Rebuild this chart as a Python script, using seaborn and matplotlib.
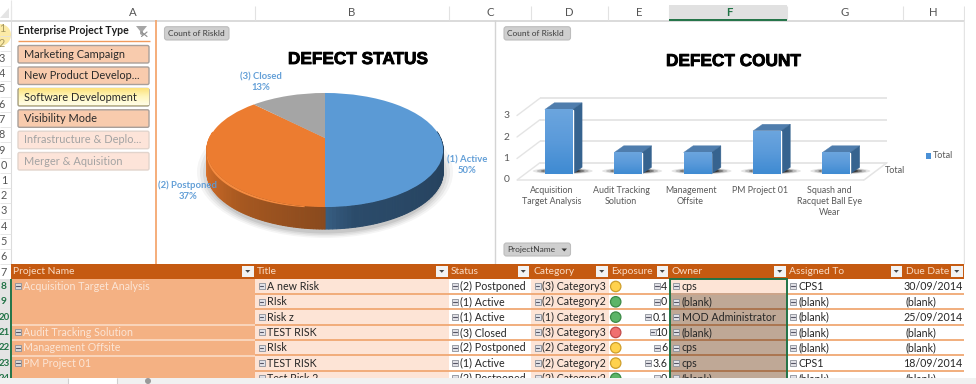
import numpy as np
import pandas as pd
import matplotlib
matplotlib.use("Agg")
import matplotlib.pyplot as plt
import seaborn as sns
import matplotlib.patheffects as pe
from matplotlib.patches import Rectangle, Polygon, Circle, Ellipse, FancyBboxPatch
from matplotlib.transforms import Transform, ScaledTranslation
from matplotlib.colors import LinearSegmentedColormap

# ---------------- data ----------------
status_labels = ["(1) Active\n50%", "(2) Postponed\n37%", "(3) Closed\n13%"]
status_counts = [4, 3, 1]
project_names = ["Acquisition\nTarget Analysis", "Audit Tracking\nSolution", "Management\nOffsite",
                 "PM Project 01", "Squash and\nRacquet Ball Eye\nWear"]
project_counts = [3, 1, 1, 2, 1]
slicer_items = ["Marketing Campaign", "New Product Develop...", "Software Development",
                "Visibility Mode", "Infrastructure & Deplo...", "Merger & Aquisition"]
slicer_states = ["on", "on", "hot", "on", "off", "off"]
headers = ["Project Name", "Title", "Status", "Category", "Exposure", "Owner", "Assigned To", "Due Date"]
col_letters = ["A", "B", "C", "D", "E", "F", "G", "H"]
row_digits = ["1", "2", "3", "4", "5", "6", "7", "8", "9", "0", "1", "2", "3", "4", "5", "6", "7"]
table_rows = ["8", "9", "20", "21", "22", "23", "24"]
merged_projects = [("Acquisition Target Analysis", 3), ("Audit Tracking Solution", 1),
                   ("Management Offsite", 1), ("PM Project 01", 2)]
titles = ["A new Risk", "RIsk", "Risk z", "TEST RISK", "RIsk", "TEST RISK", "Test Risk 2"]
statuses = ["(2) Postponed", "(1) Active", "(1) Active", "(3) Closed", "(2) Postponed", "(1) Active", "(2) Postponed"]
categories = ["(3) Category3", "(2) Category2", "(1) Category1", "(3) Category3", "(2) Category2", "(2) Category2", "(2) Category2"]
exposures = ["4", "0", "0.1", "10", "6", "3.6", "0"]
lights = ["y", "g", "g", "r", "y", "y", "g"]
owners = ["cps", "(blank)", "MOD Administrator", "(blank)", "cps", "cps", "(blank)"]
assigned = ["CPS1", "(blank)", "(blank)", "(blank)", "(blank)", "CPS1", "(blank)"]
due = ["30/09/2014", "(blank)", "25/09/2014", "(blank)", "(blank)", "18/09/2014", "(blank)"]

# ---------------- layout ----------------
sns.set_theme(style="white")
plt.rcParams["font.family"] = ["Lato", "DejaVu Sans"]
W, H = 976, 384
fig = plt.figure(figsize=(W / 100, H / 100), dpi=100, facecolor="white")

def full_axes(z):
    a = fig.add_axes([0, 0, 1, 1], zorder=z)
    a.set_xlim(0, W); a.set_ylim(H, 0); a.axis("off"); a.patch.set_alpha(0)
    return a

def px_axes(x0, y0, x1, y1, z):
    return fig.add_axes([x0 / W, 1 - y1 / H, (x1 - x0) / W, (y1 - y0) / H], zorder=z)

bg = full_axes(0)
fg = full_axes(5)

FS = 7.9
TS = 7.65
DARK = "#262626"
def T(x, y, s, size=TS, color=DARK, ha="left", va="center", ax=fg, **kw):
    return ax.text(x, y, s, fontsize=size, color=color, ha=ha, va=va, **kw)
def R(a, x0, y0, x1, y1, color, z=1, **kw):
    a.add_patch(Rectangle((x0, y0), x1 - x0, y1 - y0, facecolor=color, edgecolor="none", zorder=z, **kw))
def HL(a, x0, x1, y, color, lw=1.0, z=2):
    a.plot([x0, x1], [y, y], color=color, lw=lw, zorder=z, solid_capstyle="butt")
def VL(a, x, y0, y1, color, lw=1.0, z=2):
    a.plot([x, x], [y0, y1], color=color, lw=lw, zorder=z, solid_capstyle="butt")

# ---------------- sheet chrome ----------------
col_edges = [11, 255, 448.5, 530.6, 608, 669, 786.7, 903, 963.8]
letter_x = [133, 352, 490, 569.6, 639, 729, 845, 933]
R(bg, 669, 5, 786.7, 20, "#e1e1e1")
HL(bg, 669, 786.7, 19.8, "#217346", 1.4, z=3)
HL(bg, 0, W, 20.5, "#d4d4d4", 1.2)
for x in col_edges:
    VL(bg, x, 6, 20, "#e2e2e2", 0.8)
for x, c in zip(letter_x, col_letters):
    sel = c == "F"
    T(x, 12.5, c, size=8.2, color="#217346" if sel else "#555555", ha="center", fontweight="bold" if sel else "normal")
bg.add_patch(Polygon([[9, 8], [9, 18], [0, 18]], facecolor="#e4e4e4", edgecolor="none"))
VL(bg, 11, 0, 20, "#e6e6e6", 0.8)
VL(bg, 11, 20, 264, "#dcdcdc", 0.8)
R(bg, 0, 279, 10.5, 378, "#e4e4e4")
VL(bg, 10.6, 279, 378, "#217346", 1.4, z=3)
bg.add_patch(Circle((0, 35), 11, facecolor="#fbeaa6", edgecolor="none", zorder=1))
row_y0 = 28
for i, d in enumerate(row_digits):
    y = row_y0 + (i * 15.25)
    HL(bg, 0, 11, y + 7.6, "#e2e2e2", 0.6)
    T(2 if i < 9 else 4, y, d, size=7.8, color="#a89a60" if i < 2 else "#555555", ha="center")

# ---------------- slicer ----------------
VL(bg, 156.3, 20, 264, "#f4a76f", 1.3)
T(17.5, 30.5, "Enterprise Project Type", size=7.6, color="#1f1f1f", fontweight="bold")
HL(bg, 17.5, 150, 41.2, "#f09a5c", 1.0)
bg.add_patch(Polygon([[136, 26], [147, 26], [143, 31], [143, 36], [140, 34], [140, 31]],
                     facecolor="#a6a6a6", edgecolor="none", zorder=3))
bg.plot([141.5, 147], [32, 36.5], color="#8c8c8c", lw=0.8, zorder=4)
bg.plot([147, 141.5], [32, 36.5], color="#8c8c8c", lw=0.8, zorder=4)
slicer_top = [45, 66.5, 88, 109.3, 130.7, 152]
slicer_face = {"on": "#f8cbad", "hot": "#fdee9a", "off": "#fde4d9"}
slicer_edge = {"on": "#a99f99", "hot": "#a59f88", "off": "#e2d4cc"}
slicer_text = {"on": "#2a2a2a", "hot": "#2a2a2a", "off": "#a3a3a3"}
for name, st, y in zip(slicer_items, slicer_states, slicer_top):
    bg.add_patch(FancyBboxPatch((18, y + .5), 131, 17.5, boxstyle="round,pad=0,rounding_size=1.6",
                                facecolor=slicer_face[st], edgecolor=slicer_edge[st], lw=1.0, zorder=2))
    if st == "hot":
        grad = LinearSegmentedColormap.from_list("h", ["#fde27a", "#fff6bd", "#fffde6"])
        bg.imshow(np.linspace(0, 1, 32)[:, None], cmap=grad, extent=(19, 148.5, y + 17.4, y + 1.2),
                  aspect="auto", zorder=2.5)
        bg.set_xlim(0, W); bg.set_ylim(H, 0)
    T(24.5, y + 9.2, name, size=FS, color=slicer_text[st])

# ---------------- field buttons ----------------
def field_button(x0, y0, x1, y1, s, arrow=False):
    bg.add_patch(FancyBboxPatch((x0, y0), x1 - x0, y1 - y0, boxstyle="round,pad=0,rounding_size=2.5",
                                facecolor="#cfcfcf", edgecolor="#bdbdbd", lw=0.8, zorder=3))
    T(x0 + 3, (y0 + y1) / 2, s, size=6.0, color="#3c3c3c")
    if arrow:
        bg.add_patch(Polygon([[x1 - 9, y0 + 5.5], [x1 - 3.5, y0 + 5.5], [x1 - 6.2, y0 + 8.5]],
                             facecolor="#333333", edgecolor="none", zorder=4))
field_button(164.5, 26.7, 229, 40, "Count of RiskId")
field_button(504, 26.7, 570.5, 40, "Count of RiskId")
field_button(504, 243, 570.5, 256, "ProjectName", arrow=True)
VL(bg, 495.4, 20, 264, "#d4d4d4", 1.0)
VL(bg, 963.8, 20, 264, "#e4e4e4", 1.0)

heavy = [pe.withStroke(linewidth=0.6, foreground="black")]
T(358, 59.5, "DEFECT STATUS", size=12.4, color="black", ha="center", family="Liberation Sans",
  fontweight="bold", path_effects=heavy)
T(733.5, 61.5, "DEFECT COUNT", size=12.4, color="black", ha="center", family="Liberation Sans",
  fontweight="bold", path_effects=heavy)

# ---------------- pie ----------------
CX, CY, RX, AY, K, DEPTH = 325.0, 138.0, 115.5, 54.5, 0.2105, 22.0

def project(x, y):
    d = 1 + K * y
    return CX + RX * x / d, CY - AY * y / d

class DiscToSheet(Transform):
    input_dims = output_dims = 2
    def transform_non_affine(self, values):
        v = np.asarray(values, float)
        return np.column_stack(project(v[:, 0], v[:, 1]))

ax_pie = px_axes(200, 85, 450, 235, 1)
ax_pie.axis("off"); ax_pie.patch.set_alpha(0)
pie_colors = ["#5b9ad5", "#ec7c30", "#a5a5a5"]
wedges, _ = ax_pie.pie(status_counts, colors=pie_colors, startangle=90, counterclock=False, radius=1,
                       wedgeprops=dict(lw=0))
tr = DiscToSheet() + bg.transData
for w in wedges:
    w.set_transform(tr)
    w.set_clip_on(False)

# soft shadow below the disc
for i, (gw, gh, al) in enumerate([(256, 132, .04), (250, 128, .05), (244, 124, .06), (238, 120, .08)]):
    bg.add_patch(Ellipse((CX, 172 + i * .5), gw, gh, facecolor="black", edgecolor="none", alpha=al, zorder=.5))

side_ramps = {
    0: [(0, "#3d678e"), (.15, "#2b4b6a"), (.7, "#25415d"), (1, "#2e5272")],
    1: [(0, "#f08338"), (.25, "#d06c28"), (.6, "#a65820"), (1, "#8a4a1e")],
}
for idx, w in enumerate(wedges[:2]):
    a0, a1 = np.radians(w.theta1), np.radians(w.theta2)
    ths = np.linspace(a0, a1, 120)
    cmap = LinearSegmentedColormap.from_list("s", side_ramps[idx])
    for t0, t1 in zip(ths[:-1], ths[1:]):
        if idx == 0:
            f = abs(((t0 + t1) / 2) / (np.pi / 2))
            col = cmap(np.clip(1 - f, 0, 1) * .75 + .05)
        else:
            deg = np.degrees((t0 + t1) / 2) % 360
            f = np.clip((270 - deg) / 90, 0, 1)
            col = cmap(1 - f)
        if np.sin((t0 + t1) / 2) > 0.12:
            continue
        x0, y0 = project(np.cos(t0), np.sin(t0)); x1, y1 = project(np.cos(t1), np.sin(t1))
        bg.add_patch(Polygon([[x0, y0], [x1, y1], [x1, y1 + DEPTH], [x0, y0 + DEPTH]],
                             facecolor=col, edgecolor=col, lw=.8, zorder=1))
    if idx == 1:  # bright bevel under the orange rim, thinning toward the front
        rim = np.radians(np.linspace(186, 262, 80))
        xs, ys = project(np.cos(rim), np.sin(rim))
        thick = np.linspace(4.5, 1.0, len(rim))
        bg.add_patch(Polygon(np.r_[np.c_[xs, ys], np.c_[xs, ys + thick][::-1]], facecolor="#f58b40",
                             edgecolor="none", zorder=1.2))

PIE_TXT = "#5b9ad5"
label_xy = [(467.5, 165), (188, 191), (261, 82.5)]
for s, (x, y) in zip(status_labels, label_xy):
    T(x, y, s, size=6.8, color=PIE_TXT, ha="center", linespacing=1.25, fontweight="bold", alpha=.95)

# ---------------- bars ----------------
UNIT = 21.5
ax_bar = px_axes(524, 174 - 3.5 * UNIT, 871, 174, 2)
ax_bar.patch.set_alpha(0)
df = pd.DataFrame({"project": project_names, "count": project_counts})
sns.barplot(data=df, x="project", y="count", color="#4a90d6", saturation=1, width=0.4, ax=ax_bar, legend=False)
ax_bar.set_ylim(0, 3.5)
ax_bar.set_xlim(-0.5, 4.5)
ax_bar.set_xlabel(""); ax_bar.set_ylabel("")
ax_bar.set_yticks([0, 1, 2, 3])
ax_bar.tick_params(axis="both", length=0, labelcolor="#595959", labelsize=6.4)
ax_bar.tick_params(axis="y", labelsize=7.4, pad=10.5)
ax_bar.tick_params(axis="x", pad=8.5)
sns.despine(ax=ax_bar, left=True, bottom=True)
for lab in ax_bar.get_xticklabels():
    lab.set_transform(lab.get_transform() + ScaledTranslation(-7 / 100, 0, fig.dpi_scale_trans))
    lab.set_linespacing(1.3)
for lab in ax_bar.get_yticklabels():
    lab.set_transform(lab.get_transform() + ScaledTranslation(0, -5 / 100, fig.dpi_scale_trans))
ax_bar.xaxis.grid(False); ax_bar.yaxis.grid(False)

def sheet_y(v):
    return 174 - v * UNIT

FX0, FX1, BX0, BX1, DY = 517, 864, 540, 887, 17.3
GRID = "#e4e4e4"
for v in [0, 1, 2, 3]:
    front = sheet_y(v) + 6
    HL(bg, BX0, BX1, front - DY, GRID, 1.3)
    bg.plot([FX0, BX0], [front, front - DY], color=GRID, lw=1.0, zorder=2)
HL(bg, FX0, FX1, sheet_y(0) + 6, GRID, 1.1)
bg.plot([FX1, BX1], [sheet_y(0) + 6, sheet_y(0) + 6 - DY], color=GRID, lw=1.1, zorder=2)

face_cmap = LinearSegmentedColormap.from_list("f", ["#6ba5de", "#5a9ada", "#3f8bd2"])
fig.canvas.draw()
ox, oy = 9.5, -6.7
for bar in ax_bar.patches:
    x0, x1 = bar.get_x(), bar.get_x() + bar.get_width()
    h = bar.get_height()
    ax_bar.imshow(np.linspace(0, 1, 32)[:, None], cmap=face_cmap, extent=(x0, x1, 0, h), aspect="auto", zorder=3,
                  origin="upper")
    (px0, py1), (px1, py0) = bg.transData.inverted().transform(ax_bar.transData.transform([(x0, 0), (x1, h)]))
    for g, a in [(60, .10), (52, .18), (44, .35), (36, .55)]:
        bg.add_patch(Ellipse(((px0 + px1) / 2 + 4, py1 - 3), g, 5.5 * g / 52, facecolor="black", edgecolor="none", alpha=a, zorder=2.2))
    bg.add_patch(Polygon([[px0, py0], [px1, py0], [px1 + ox, py0 + oy], [px0 + ox, py0 + oy]],
                         facecolor="#4f7dad", edgecolor="#4f7dad", lw=.3, zorder=3))
    bg.add_patch(Polygon([[px1, py0], [px1 + ox, py0 + oy], [px1 + ox, py1 + oy], [px1, py1]],
                         facecolor="#36638f", edgecolor="#36638f", lw=.3, zorder=3))
ax_bar.set_xlim(-0.5, 4.5); ax_bar.set_ylim(0, 3.5)
R(bg, 926, 153, 931, 158.5, "#4a90d6", z=3)
T(933, 155.7, "Total", size=6.5, color="#595959")
T(885, 170.7, "Total", size=6.5, color="#595959")

# ---------------- table ----------------
HEAD_T, HEAD_B, PITCH = 263.5, 279.4, 15.33
R(fg, 11, HEAD_T, col_edges[-1], HEAD_B, "#c55a11")
header_x = [13, 257, 451, 533, 611, 672, 789, 906]
btn_x = [242, 436, 517.5, 596, 656.5, 774, 890.5, 951]
for x, b, s in zip(header_x, btn_x, headers):
    T(x, 272, s, size=7.35, color="#f9dcc6")
    R(fg, b, 265.5, b + 11.5, 277, "#f2f2f2", z=3)
    fg.add_patch(Polygon([[b + 3.2, 270], [b + 8.3, 270], [b + 5.75, 272.8]], facecolor="#444444", edgecolor="none", zorder=4))

def minus(x, y, light=False):
    fg.add_patch(Rectangle((x - 3, y - 3), 6, 6, facecolor="#d8d8d8" if light else "#e2e2e8",
                           edgecolor="#8a8f98", lw=.6, zorder=3))
    fg.plot([x - 1.7, x + 1.7], [y, y], color="#555566", lw=.8, zorder=4)

rows_y = [HEAD_B + PITCH * i for i in range(8)]
LINE = "#f0a873"
OWN_LINE = "#a5714e"
LIGHT_FILL, BROWN = "#fde4d6", "#bfa896"
GREEN = "#217346"
cx = dict(title=(255, 448.5), status=(448.5, 530.6), cat=(530.6, 608.7), exp=(608.7, 669.5),
          own=(669.5, 786.7), asg=(786.7, 904), due=(904, 963.8))
light_col = {"y": ("#ffd24d", "#cf9f2b"), "g": ("#5cb568", "#3b8a46"), "r": ("#f07070", "#c24b4b")}
for i in range(7):
    top, bot = rows_y[i], rows_y[i + 1]
    mid = (top + bot) / 2 - 0.6
    R(fg, cx["title"][0], top, cx["title"][1], bot, LIGHT_FILL)
    R(fg, cx["cat"][0], top, cx["cat"][1], bot, LIGHT_FILL)
    R(fg, cx["own"][0], top, cx["own"][1], bot, LIGHT_FILL if i == 0 else BROWN)
    HL(fg, cx["title"][0], col_edges[-1], bot - .7, LINE, 1.3, z=2)
    HL(fg, cx["own"][0], cx["own"][1], bot - .7, OWN_LINE if i else "#c9a48c", 1.3, z=2.2)
    minus(261.5, mid); T(267, mid, titles[i])
    minus(455, mid); T(460.5, mid, statuses[i])
    minus(537.5, mid); T(542.5, mid, categories[i])
    f, e = light_col[lights[i]]
    fg.add_patch(Circle((615.7, mid), 5.2, facecolor=f, edgecolor=e, lw=.9, zorder=3))
    T(667.3, mid, exposures[i], ha="right")
    minus(667.3 - 4.4 * len(exposures[i]) - 6, mid)
    minus(676, mid); T(681.5, mid, owners[i])
    minus(793, mid); T(798.5, mid, assigned[i])
    if due[i] == "(blank)":
        T(905, mid, due[i])
    else:
        T(962.5, mid, due[i], ha="right")
    if len(table_rows[i]) == 1:
        T(4, mid, table_rows[i], size=7.4, color=GREEN, ha="center", fontweight="bold", zorder=6)
    else:
        T(9.9, mid, table_rows[i], size=6.9, color=GREEN, ha="right", fontweight="bold", zorder=6)

# merged project-name column
PROJ_FILL, PROJ_TXT = "#f4b183", "#fbe5d6"
k = 0
for name, span in merged_projects:
    top, bot = rows_y[k], rows_y[k + span]
    R(fg, 11.5, top, 255, bot, PROJ_FILL)
    HL(fg, 11.5, 255, bot - .4, "#fbdcc6", 1.2, z=2)
    mid = rows_y[k] + PITCH / 2 - .6
    minus(18, mid, light=True)
    T(23, mid, name, color=PROJ_TXT)
    k += span

# selection outline
fg.add_patch(Rectangle((cx["own"][0], HEAD_B), cx["own"][1] - cx["own"][0], 100, fill=False,
                       edgecolor=GREEN, lw=1.4, zorder=6))

# ---------------- sheet tabs strip ----------------
R(fg, 0, 378, W, H, "#f1f1f1", z=20)
R(fg, 68, 377.5, 117, H, "white", z=21)
VL(fg, 68, 377.5, H, "#cfcfcf", .8, z=22); VL(fg, 117, 377.5, H, "#cfcfcf", .8, z=22)
fg.add_patch(Circle((148, 381), 3, facecolor="#9a9a9a", edgecolor="none", zorder=22))
R(fg, 965, 0, W, 378, "white", z=4)

fig.savefig("out.png", dpi=100)
